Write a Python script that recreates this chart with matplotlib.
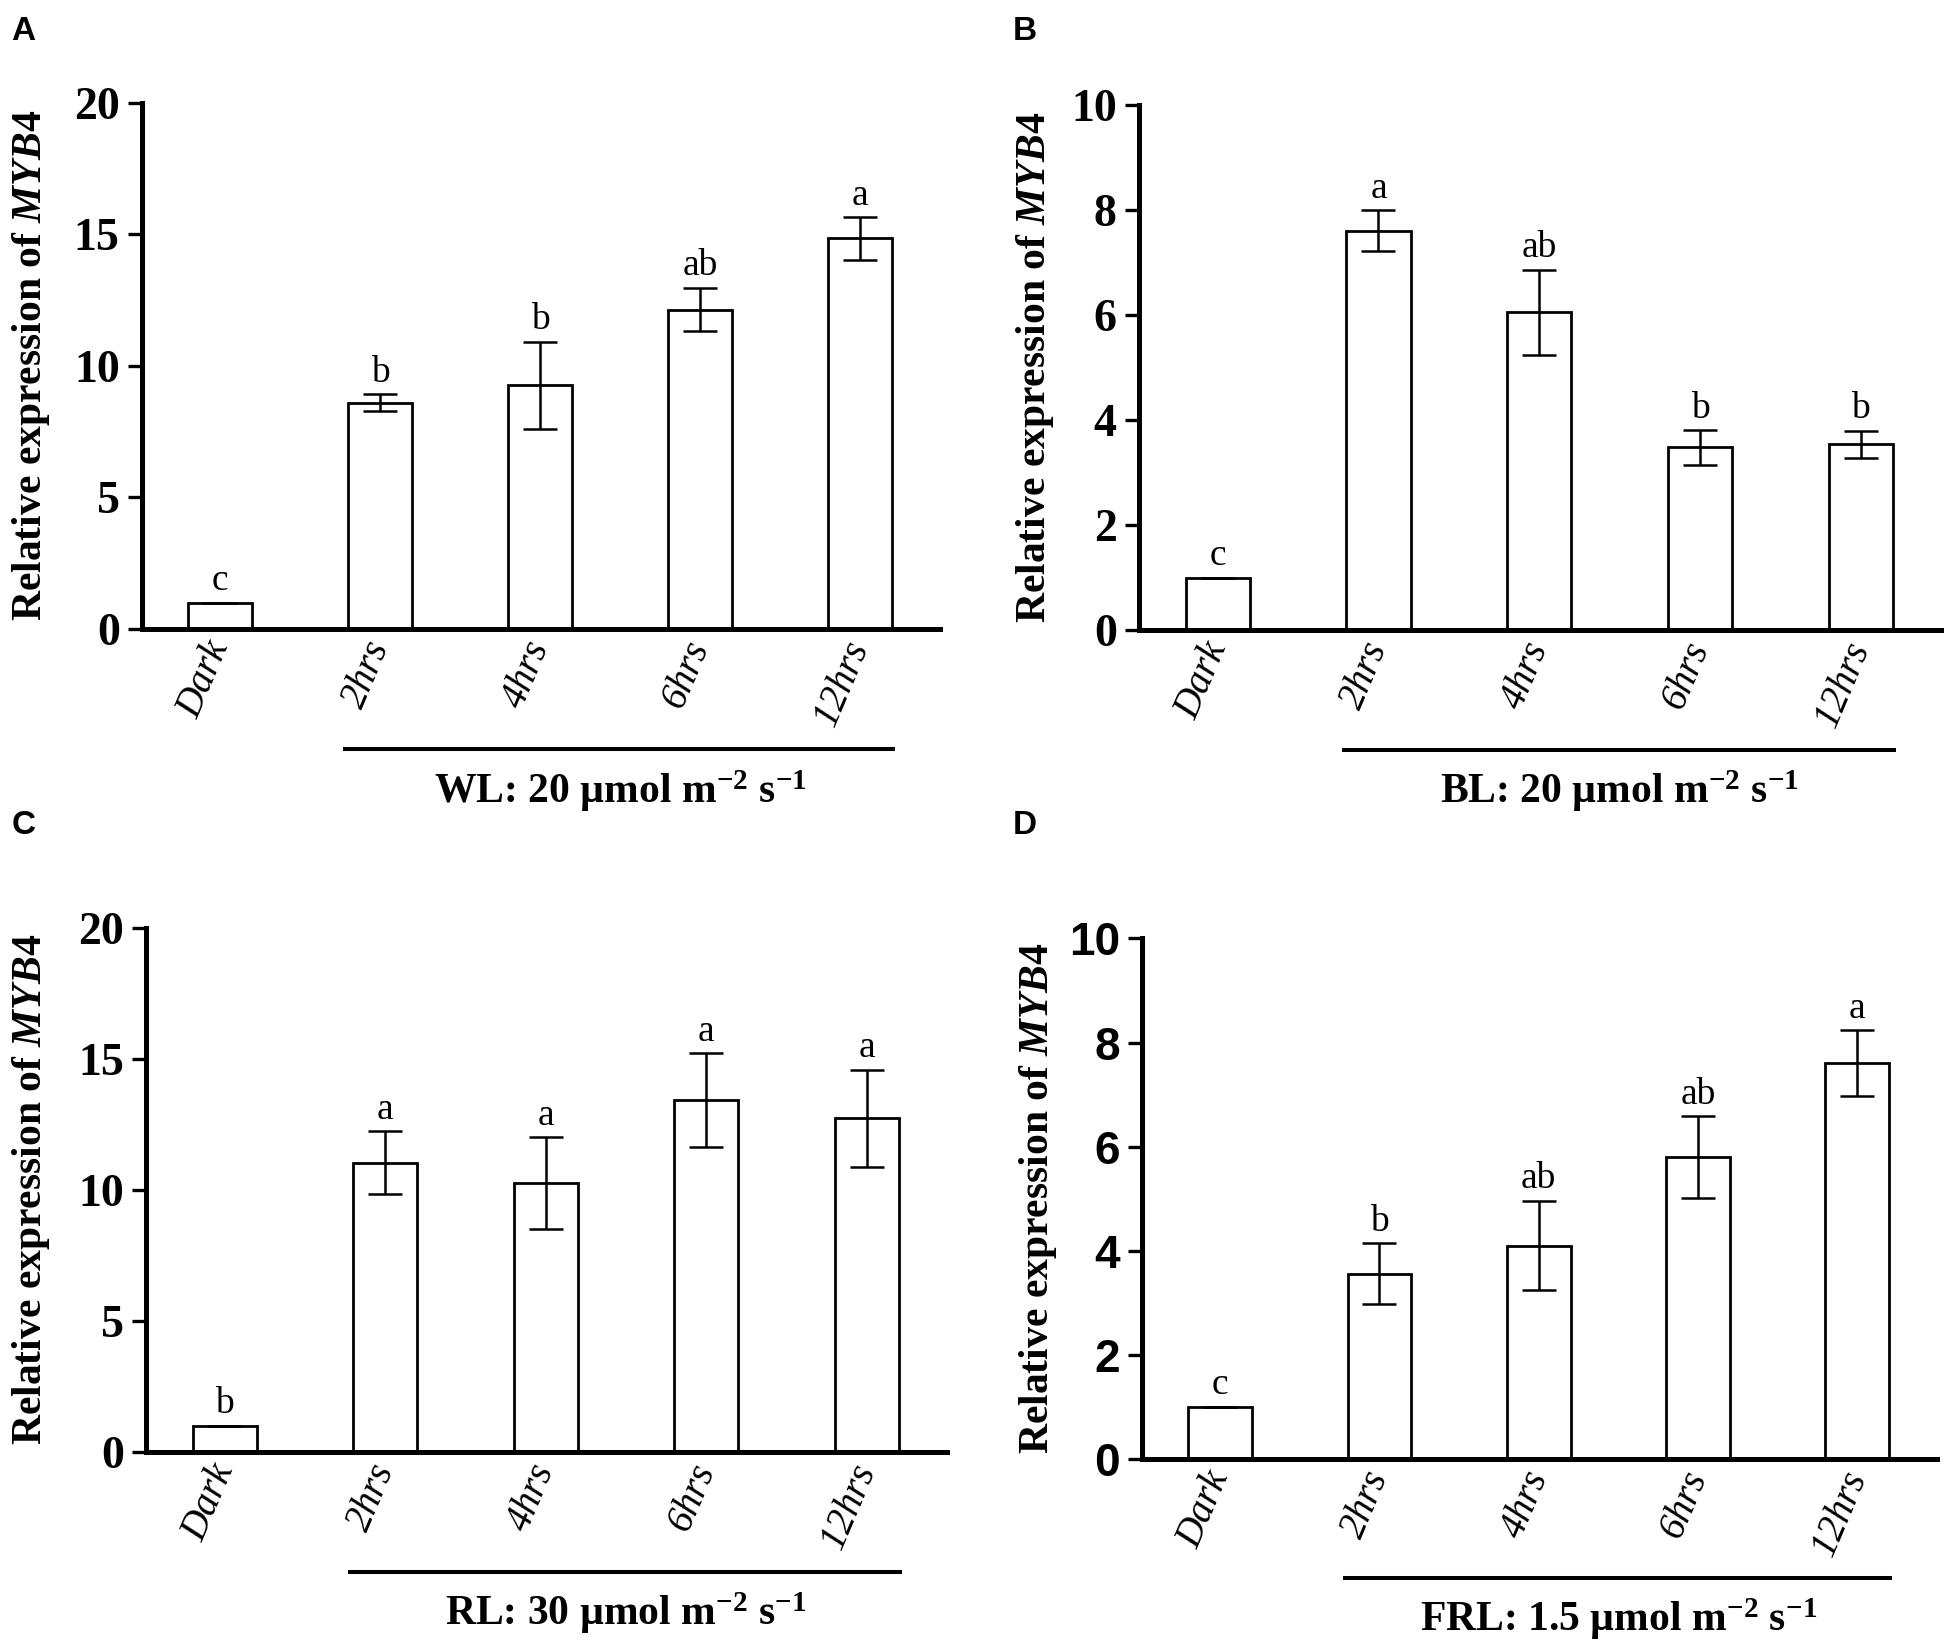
import matplotlib
matplotlib.use("Agg")
import matplotlib.pyplot as plt
import matplotlib.transforms as mtransforms
import numpy as np

plt.rcParams["mathtext.fontset"] = "custom"
plt.rcParams["mathtext.rm"] = "Liberation Serif:bold"
plt.rcParams["mathtext.bf"] = "Liberation Serif:bold"
plt.rcParams["mathtext.it"] = "Liberation Serif:italic:bold"
plt.rcParams["mathtext.default"] = "regular"

SERIF = "Liberation Serif"
SANS = "Liberation Sans"

categories = ["Dark", "2hrs", "4hrs", "6hrs", "12hrs"]

wl_mean = [1.0, 8.60, 9.26, 12.14, 14.84]
wl_err = [0.0, 0.33, 1.66, 0.83, 0.81]
wl_letters = ["c", "b", "b", "ab", "a"]

bl_mean = [1.0, 7.61, 6.06, 3.48, 3.54]
bl_err = [0.0, 0.39, 0.81, 0.33, 0.26]
bl_letters = ["c", "a", "ab", "b", "b"]

rl_mean = [1.0, 11.03, 10.25, 13.42, 12.74]
rl_err = [0.0, 1.20, 1.75, 1.80, 1.85]
rl_letters = ["b", "a", "a", "a", "a"]

frl_mean = [1.0, 3.56, 4.10, 5.80, 7.61]
frl_err = [0.0, 0.58, 0.86, 0.78, 0.63]
frl_letters = ["c", "b", "ab", "ab", "a"]

# (tag, means, errors, letters, y max, y step, light condition, tick font, axes rect, ylabel x)
panels = [
    ("A", wl_mean, wl_err, wl_letters, 20, 5, "WL: 20 µmol m$^{-2}$ s$^{-1}$", SERIF,
     [0.0730, 0.6190, 0.4105, 0.3188], -0.139),
    ("B", bl_mean, bl_err, bl_letters, 10, 2, "BL: 20 µmol m$^{-2}$ s$^{-1}$", SERIF,
     [0.5859, 0.6184, 0.4126, 0.3177], -0.130),
    ("C", rl_mean, rl_err, rl_letters, 20, 5, "RL: 30 µmol m$^{-2}$ s$^{-1}$", SERIF,
     [0.0751, 0.1205, 0.4120, 0.3176], -0.143),
    ("D", frl_mean, frl_err, frl_letters, 10, 2, "FRL: 1.5 µmol m$^{-2}$ s$^{-1}$", SANS,
     [0.5875, 0.1163, 0.4089, 0.3153], -0.131),
]

fig = plt.figure(figsize=(19.44, 16.51), dpi=100)

for tag, mean, err, letters, ymax, ystep, cond, tickfont, rect, ylab_x in panels:
    ax = fig.add_axes(rect)
    x = np.arange(len(categories))
    ax.bar(x, mean, width=0.4, color="white", edgecolor="black", linewidth=2.0, zorder=2)
    ax.errorbar(x, mean, yerr=err, fmt="none", ecolor="black", elinewidth=1.8,
                capsize=12, capthick=1.8, zorder=3)
    for xi, m, e, lab in zip(x, mean, err, letters):
        ax.annotate(lab, (xi, m + e), xytext=(0, 9), textcoords="offset points",
                    ha="center", va="baseline", fontsize=27, family=SERIF)

    ax.set_xlim(-0.49, 4.5)
    ax.set_ylim(0, ymax)
    yt = np.arange(0, ymax + 0.1, ystep)
    ax.set_yticks(yt)
    ax.set_yticklabels([f"{v:g}" for v in yt], fontsize=33, fontweight="bold", family=tickfont)
    ax.set_xticks(x)
    ax.set_xticklabels(categories, rotation=67, ha="right", va="center",
                       rotation_mode="anchor", fontsize=28, fontstyle="italic", family=SERIF)
    ax.tick_params(axis="x", length=0, pad=10)
    ax.tick_params(axis="y", direction="out", length=10, width=2.4, pad=6)

    for side in ["top", "right"]:
        ax.spines[side].set_visible(False)
    for side in ["left", "bottom"]:
        ax.spines[side].set_linewidth(3.6)

    ax.set_ylabel(r"Relative expression of $\mathit{MYB4}$", fontsize=30,
                  fontweight="bold", family=SERIF, va="center")
    ax.yaxis.set_label_coords(ylab_x, 0.5)

    # bracket line under the light treatments
    trans = mtransforms.blended_transform_factory(ax.transData, ax.transAxes)
    ax.plot([0.77, 4.22], [-0.228, -0.228], color="black", lw=2.9,
            transform=trans, clip_on=False, solid_capstyle="butt")
    ax.text(2.5, -0.33, cond, transform=trans, ha="center", va="baseline",
            fontsize=30, fontweight="bold", family=SERIF)

# panel tags
fig.text(0.006, 0.981, "A", fontsize=24, fontweight="bold", family=SANS, va="center")
fig.text(0.521, 0.981, "B", fontsize=24, fontweight="bold", family=SANS, va="center")
fig.text(0.006, 0.4997, "C", fontsize=24, fontweight="bold", family=SANS, va="center")
fig.text(0.521, 0.4997, "D", fontsize=24, fontweight="bold", family=SANS, va="center")

fig.savefig("out.png", dpi=100)
plt.close(fig)
